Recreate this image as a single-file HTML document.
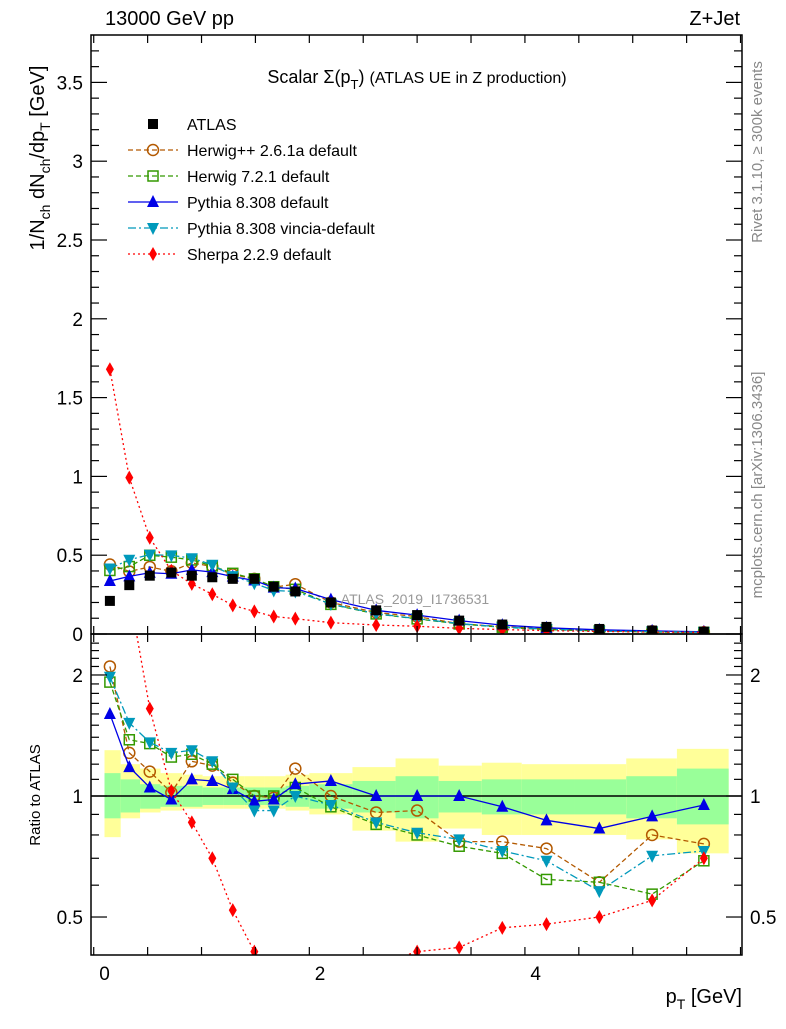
<!DOCTYPE html>
<html><head><meta charset="utf-8"><style>
body{margin:0;background:#fff}
svg text{font-family:"Liberation Sans",sans-serif}
</style></head><body>
<svg id="c" width="786" height="1024" xmlns="http://www.w3.org/2000/svg">
<g id="bands"></g>
<g id="marks"></g>
<g id="axes"></g>
<text x="105" y="25" font-size="20">13000 GeV pp</text>
<text x="740" y="25" font-size="20" text-anchor="end">Z+Jet</text>
<text x="417" y="83" font-size="18" text-anchor="middle">Scalar Σ(p<tspan font-size="13" dy="6">T</tspan><tspan dy="-6">) </tspan><tspan font-size="16">(ATLAS UE in Z production)</tspan></text>
<text x="415" y="604" font-size="14" fill="#999" text-anchor="middle">ATLAS_2019_I1736531</text>
<text transform="translate(762,152) rotate(-90)" font-size="15" fill="#888" text-anchor="middle">Rivet 3.1.10, ≥ 300k events</text>
<text transform="translate(762,485) rotate(-90)" font-size="15" fill="#888" text-anchor="middle">mcplots.cern.ch [arXiv:1306.3436]</text>
<text transform="translate(44,158) rotate(-90)" font-size="20" text-anchor="middle">1/N<tspan font-size="14" dy="6">ch</tspan><tspan dy="-6"> dN</tspan><tspan font-size="14" dy="6">ch</tspan><tspan dy="-6">/dp</tspan><tspan font-size="14" dy="6">T</tspan><tspan dy="-6"> [GeV]</tspan></text>
<text transform="translate(40,795) rotate(-90)" font-size="15" text-anchor="middle">Ratio to ATLAS</text>
<text x="742" y="1003" font-size="20" text-anchor="end">p<tspan font-size="14" dy="6">T</tspan><tspan dy="-6"> [GeV]</tspan></text>
<g id="legend"></g>
</svg>
<script>
const xs=[0.05,0.23,0.42,0.62,0.81,1.0,1.19,1.39,1.57,1.77,2.1,2.52,2.9,3.29,3.69,4.1,4.59,5.08,5.56];
const edges=[0,0.15,0.33,0.52,0.72,0.91,1.1,1.3,1.48,1.68,1.9,2.3,2.7,3.1,3.5,3.87,4.36,4.84,5.31,5.79];
const atlas=[0.21,0.31,0.37,0.39,0.37,0.36,0.35,0.35,0.30,0.27,0.20,0.15,0.12,0.085,0.06,0.045,0.032,0.022,0.015];
const rHpp=[2.1,1.28,1.15,1.02,1.22,1.19,1.08,1.0,0.99,1.17,1.0,0.91,0.92,0.77,0.77,0.74,0.61,0.80,0.76];
const rH7=[1.92,1.38,1.35,1.25,1.27,1.20,1.10,1.0,1.0,1.05,0.94,0.85,0.80,0.75,0.72,0.62,0.61,0.57,0.69];
const rPy=[1.6,1.18,1.05,0.98,1.1,1.09,1.04,0.97,0.98,1.07,1.09,1.0,1.0,1.0,0.94,0.87,0.83,0.89,0.95];
const rVi=[1.98,1.52,1.36,1.28,1.30,1.22,1.05,0.92,0.92,1.0,0.95,0.86,0.81,0.78,0.73,0.69,0.58,0.71,0.73];
const rSh=[8.0,3.2,1.65,1.03,0.86,0.70,0.52,0.41,0.37,0.36,0.36,0.38,0.41,0.42,0.47,0.48,0.50,0.55,0.70];
const yelUp=[1.3,1.2,1.17,1.14,1.13,1.12,1.12,1.12,1.12,1.13,1.14,1.18,1.24,1.19,1.21,1.20,1.20,1.24,1.31];
const yelDn=[0.79,0.88,0.91,0.92,0.93,0.93,0.93,0.93,0.93,0.92,0.90,0.82,0.77,0.83,0.80,0.80,0.80,0.78,0.72];
const grnUp=[1.14,1.1,1.07,1.06,1.06,1.05,1.05,1.05,1.05,1.06,1.07,1.09,1.12,1.09,1.10,1.10,1.10,1.12,1.17];
const grnDn=[0.88,0.91,0.93,0.94,0.94,0.95,0.95,0.95,0.95,0.94,0.93,0.91,0.88,0.91,0.90,0.90,0.90,0.88,0.85];
const mainTicks=[0,0.5,1,1.5,2,2.5,3,3.5];
const ratioTicks=[0.5,1,2];
const xTicks=[0,2,4];

const L=91,R=742,T=35,MB=634,RB=955;
const X=v=>104.5+v*107.8;
const Y=v=>634-v*157.6;
const RY=v=>796-Math.log10(v)*402;
const NS="http://www.w3.org/2000/svg";
function mk(tag,at,parent){const e=document.createElementNS(NS,tag);for(const k in at)e.setAttribute(k,at[k]);parent.appendChild(e);return e;}
const svg=document.getElementById('c');
const defs=mk('defs',{},svg);
const c1=mk('clipPath',{id:'cm'},defs);mk('rect',{x:L,y:T,width:R-L,height:MB-T},c1);
const c2=mk('clipPath',{id:'cr'},defs);mk('rect',{x:L,y:MB,width:R-L,height:RB-MB},c2);
const bands=document.getElementById('bands');
bands.setAttribute('clip-path','url(#cr)');
for(let i=0;i<xs.length;i++){
  const x0=X(edges[i]),x1=X(edges[i+1]);
  let r=mk('rect',{x:x0,y:RY(yelUp[i]),width:x1-x0,height:RY(yelDn[i])-RY(yelUp[i]),fill:'#ffff99'},bands);
  
  
  r=mk('rect',{x:x0,y:RY(grnUp[i]),width:x1-x0,height:RY(grnDn[i])-RY(grnUp[i]),fill:'#99ff99'},bands);
  
  
}
const marks=document.getElementById('marks');
let ln=mk('line',{x1:L,x2:R,y1:RY(1),y2:RY(1),stroke:'#000','stroke-width':1.5},marks);


function marker(g,type,x,y,color){
  let e;
  if(type==='sq')e=mk('rect',{x:x-5,y:y-5,width:10,height:10,fill:'#000'},g);
  else if(type==='circ')e=mk('circle',{cx:x,cy:y,r:5.5,fill:'none',stroke:color,'stroke-width':1.5},g);
  else if(type==='osq')e=mk('rect',{x:x-5,y:y-5,width:10,height:10,fill:'none',stroke:color,'stroke-width':1.5},g);
  else if(type==='tri')e=mk('polygon',{points:`${x},${y-7} ${x-6},${y+5} ${x+6},${y+5}`,fill:color},g);
  else if(type==='itri')e=mk('polygon',{points:`${x},${y+7} ${x-6},${y-5} ${x+6},${y-5}`,fill:color},g);
  else e=mk('polygon',{points:`${x},${y-7} ${x-4},${y} ${x},${y+7} ${x+4},${y}`,fill:color},g);
  return e;
}
const series=[
 {n:'herwig-pp',r:rHpp,c:'#b35900',m:'circ',d:'5,3',lab:'Herwig++ 2.6.1a default'},
 {n:'herwig7',r:rH7,c:'#339900',m:'osq',d:'5,3',lab:'Herwig 7.2.1 default'},
 {n:'pythia',r:rPy,c:'#0000e6',m:'tri',d:'',lab:'Pythia 8.308 default'},
 {n:'vincia',r:rVi,c:'#0099bb',m:'itri',d:'8,3,2,3',lab:'Pythia 8.308 vincia-default'},
 {n:'sherpa',r:rSh,c:'#ff0000',m:'dia',d:'2,3',lab:'Sherpa 2.2.9 default'}];
series.forEach(s=>{
  const gm=mk('g',{'clip-path':'url(#cm)'},marks);
  
  
  const gr=mk('g',{'clip-path':'url(#cr)'},marks);
  
  
  const pm=xs.map((x,i)=>X(x)+','+Y(s.r[i]*atlas[i])).join(' ');
  const pr=xs.map((x,i)=>X(x)+','+RY(s.r[i])).join(' ');
  mk('polyline',{points:pm,fill:'none',stroke:s.c,'stroke-width':1.3,'stroke-dasharray':s.d},gm);
  mk('polyline',{points:pr,fill:'none',stroke:s.c,'stroke-width':1.3,'stroke-dasharray':s.d},gr);
  xs.forEach((x,i)=>{
    let e=marker(gm,s.m,X(x),Y(s.r[i]*atlas[i]),s.c);
    
    
    e=marker(gr,s.m,X(x),RY(s.r[i]),s.c);
    
    
  });
});
const ga=mk('g',{'clip-path':'url(#cm)'},marks);


xs.forEach((x,i)=>{const e=marker(ga,'sq',X(x),Y(atlas[i]),'#000');
  
  });
const ax=document.getElementById('axes');
const sA={stroke:'#000','stroke-width':1.5,fill:'none'};
mk('rect',Object.assign({x:L,y:T,width:R-L,height:MB-T},sA),ax);
mk('rect',Object.assign({x:L,y:MB,width:R-L,height:RB-MB},sA),ax);
function tk(x1,y1,x2,y2){mk('line',{x1,y1,x2,y2,stroke:'#000','stroke-width':1.2},ax);}
for(let v=0;v<=3.8;v+=0.1){const y=Y(v);if(y<T)break;const big=Math.abs(v*2-Math.round(v*2))<1e-6;const l=big?16:8;tk(L,y,L+l,y);tk(R,y,R-l,y);}
mainTicks.forEach(v=>{const t=mk('text',{x:L-8,y:Y(v)+7,'font-size':19,'text-anchor':'end'},ax);t.textContent=String(v);
  });
for(let v=0.4;v<=2.5;v+=0.1){const y=RY(v);if(y<MB||y>RB)continue;const big=ratioTicks.some(t=>Math.abs(t-v)<1e-6);const l=big?16:8;tk(L,y,L+l,y);tk(R,y,R-l,y);}
ratioTicks.forEach(v=>{let t=mk('text',{x:L-8,y:RY(v)+7,'font-size':19,'text-anchor':'end'},ax);t.textContent=String(v);
  
  t=mk('text',{x:R+8,y:RY(v)+7,'font-size':19},ax);t.textContent=String(v);
  });
for(let v=-0.1;v<=5.9;v+=0.5){const x=X(v);if(x<L||x>R)continue;const big=Math.abs(v-Math.round(v))<1e-6&&Math.round(v)%2===0;const l=big?16:8;
  tk(x,MB,x,MB-l);tk(x,T,x,T+l);tk(x,RB,x,RB-l);tk(x,MB,x,MB+l);}
xTicks.forEach(v=>{const t=mk('text',{x:X(v),y:980,'font-size':19,'text-anchor':'middle'},ax);t.textContent=String(v);
  });
const lg=document.getElementById('legend');
const items=[{m:'sq',c:'#000',d:'',lab:'ATLAS'}].concat(series);
items.forEach((s,i)=>{const y=124+i*26;
  const g=mk('g',{},lg);
  
  
  if(i>0)mk('line',{x1:128,x2:178,y1:y,y2:y,stroke:s.c,'stroke-width':1.3,'stroke-dasharray':s.d},g);
  marker(g,s.m,153,y,s.c);
  const t=mk('text',{x:187,y:y+6,'font-size':16},g);t.textContent=s.lab||'ATLAS';});
</script>
</body></html>
